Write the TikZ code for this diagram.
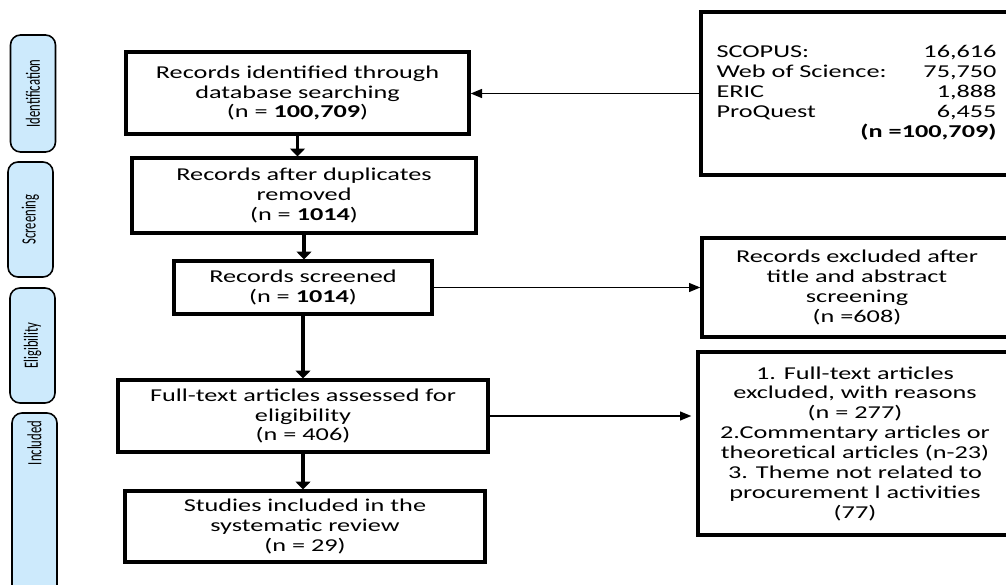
\documentclass[tikz,border=0pt]{standalone}
\usepackage{fontspec}
\setmainfont{Carlito}[FakeStretch=1.45]
\newfontfamily\phasefont{Carlito}
\usetikzlibrary{arrows.meta}
\definecolor{phaseblue}{RGB}{205,234,252}
\newcommand{\phasetext}[1]{\scalebox{1}[1.6]{\phasefont\fontsize{7.2}{8}\selectfont #1}}

\begin{document}
\begin{tikzpicture}[
    box/.style={draw, line width=1.8pt, align=center, inner sep=0pt,
      font=\fontsize{10.3}{11.3}\selectfont},
    phase/.style={draw, rotate=90, rounded corners=0.2cm, fill=phaseblue,
      line width=0.9pt, minimum height=0.9cm, inner sep=0pt},
    flow/.style={line width=2.2pt, -{Triangle[length=4.5pt,width=8.5pt]}},
    side/.style={line width=1.1pt, -{Triangle[length=6.5pt,width=5pt]}}
  ]
  \useasboundingbox (0,0) rectangle (20.12,-11.7);

  % Phases on the left
  \node[phase, minimum width=2.34cm] (pid)   at (0.66,-1.87) {\phasetext{Identification}};
  \node[phase, minimum width=2.30cm] (pscr)  at (0.61,-4.39) {\phasetext{Screening}};
  \node[phase, minimum width=2.30cm] (pelig) at (0.65,-6.91) {\phasetext{Eligibility}};
  \node[phase, minimum width=3.74cm] (pincl) at (0.69,-10.13) {};
  \node[rotate=90, inner sep=0pt] (tincl) at (0.69,-8.86) {\phasetext{Included}};

  % Main flow
  \node[box, minimum width=6.86cm, minimum height=1.64cm] (rec) at (5.95,-1.86)
    {Records identified through\\database searching\\(n = \textbf{100,709})};
  \node[box, minimum width=6.88cm, minimum height=1.50cm] (dup) at (6.08,-3.91)
    {Records after duplicates\\removed\\(n = \textbf{1014})};
  \node[box, minimum width=5.16cm, minimum height=1.06cm] (scr) at (6.06,-5.75)
    {Records screened\\(n = \textbf{1014})};
  \node[box, minimum width=7.40cm, minimum height=1.44cm] (elig) at (6.06,-8.32)
    {Full-text articles assessed for\\eligibility\\(n = 406)};
  \node[box, minimum width=7.20cm, minimum height=1.42cm] (incl) at (6.10,-10.53)
    {Studies included in the\\systematic review\\(n = 29)};

  % Boxes on the right
  \node[box, minimum width=6.22cm, minimum height=3.26cm] (src) at (17.13,-1.87)
    {\begin{tabular*}{5.6cm}{@{}l@{\extracolsep{\fill}}r@{}}
      SCOPUS: & 16,616\\
      Web of Science: & 75,750\\
      ERIC & 1,888\\
      ProQuest & 6,455\\
      \multicolumn{2}{@{}r@{}}{\textbf{(n =100,709)}}
    \end{tabular*}};
  \node[box, minimum width=6.20cm, minimum height=1.98cm] (exc1) at (17.14,-5.75)
    {Records excluded after\\title and abstract\\screening\\(n =608)};
  \node[box, minimum width=6.28cm, minimum height=3.66cm] (exc2) at (17.10,-8.87)
    {1. Full-text articles\\excluded, with reasons\\(n = 277)\\2.Commentary articles or\\theoretical articles (n-23)\\3. Theme not related to\\procurement l activities\\(77)};

  \draw[side] (src.west) -- (src.west -| rec.east);
  \draw[flow] (rec.south) -- (rec.south |- dup.north);
  \draw[flow] (dup.south) -- (dup.south |- scr.north);
  \draw[flow] (scr.south) -- (scr.south |- elig.north);
  \draw[flow] (elig.south) -- (elig.south |- incl.north);
  \draw[side] (scr.east) -- (scr.east -| exc1.west);
  \draw[side, shorten >=0.1cm] (elig.east) -- (elig.east -| exc2.west);
\end{tikzpicture}
\end{document}
